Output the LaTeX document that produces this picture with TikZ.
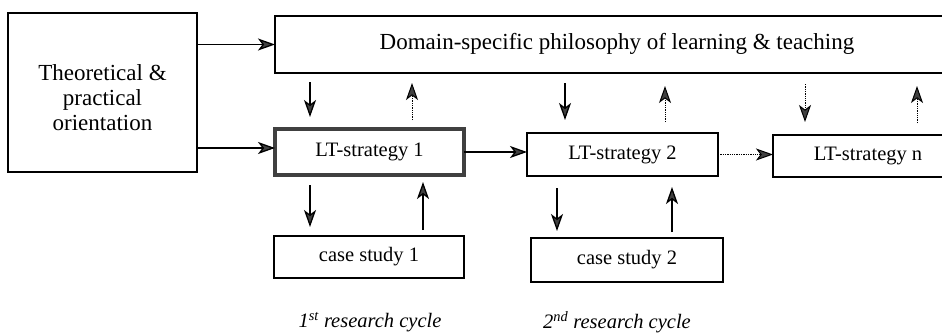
\documentclass[tikz,border=0pt]{standalone}
\usepackage{fontspec}
\setmainfont{Liberation Serif}
\usepackage{tikz}
\usetikzlibrary{arrows.meta}
\usetikzlibrary{positioning}

\tikzset{
  box/.style={draw, rectangle, line width=1.3pt, inner sep=0pt, outer sep=0pt},
  thickbox/.style={box, line width=3.8pt, draw=black!75},
  big/.style={font=\fontsize{23}{25}\selectfont},
  arr/.style={-{Stealth[length=17pt,width=12pt,inset=4.5pt,fill=black!75]}, line width=1.3pt},
  dotarr/.style={arr, densely dotted, line width=1pt},
}

\begin{document}
\begin{tikzpicture}[x=1pt, y=-1pt, font=\fontsize{20.5}{25}\selectfont]
\useasboundingbox (0,0) rectangle (942,332);
\clip (0,0) rectangle (942,332);

\node[box, minimum width=189pt, minimum height=159pt,
      label={[big, align=center, yshift=-5pt]center:Theoretical \&\\practical\\orientation}] (theory) at (102.5,92.5) {};
\node[box, minimum width=700pt, minimum height=57pt,
      label={[big, xshift=-8pt, yshift=1pt]center:Domain-specific philosophy of learning \& teaching}] (philo) at (625,44.5) {};

\node[thickbox, minimum width=189pt, minimum height=46pt] (lt1) at (369.5,152)   {LT-strategy 1};
\node[box,      minimum width=191pt, minimum height=43pt] (lt2) at (622.5,154.5) {LT-strategy 2};
\node[box,      minimum width=190pt, minimum height=42pt] (ltn) at (868,156)     {LT-strategy n};

\node[box, minimum width=190pt, minimum height=42pt] (cs1) at (369,257) {case study 1};
\node[box, minimum width=192pt, minimum height=44pt] (cs2) at (627,260) {case study 2};

\node (cyc1) at (370,322) {\itshape 1\textsuperscript{st} research cycle};
\node (cyc2) at (617,322) {\itshape 2\textsuperscript{nd} research cycle};

% orientation feeds philosophy and first strategy
\draw[arr] (theory.east |- philo.west) -- (philo.west);
\draw[arr] ([yshift=4pt]theory.east |- lt1.west) -- ([yshift=4pt]lt1.west);

% philosophy <-> strategies
\draw[arr,    shorten <=9pt,  shorten >=12pt] ([xshift=-59.5pt]lt1.north |- philo.south) -- ([xshift=-59.5pt]lt1.north);
\draw[dotarr, shorten <=9pt,  shorten >=10pt] ([xshift=42.5pt]lt1.north) -- ([xshift=42.5pt]lt1.north |- philo.south);
\draw[arr,    shorten <=10pt, shorten >=13pt] ([xshift=-57.5pt]lt2.north |- philo.south) -- ([xshift=-57.5pt]lt2.north);
\draw[dotarr, shorten <=11pt, shorten >=13pt] ([xshift=42.5pt]lt2.north) -- ([xshift=42.5pt]lt2.north |- philo.south);
\draw[dotarr, shorten <=11pt, shorten >=13pt] ([xshift=-63pt]ltn.north |- philo.south) -- ([xshift=-63pt]ltn.north);
\draw[dotarr, shorten <=12pt, shorten >=13pt] ([xshift=49pt]ltn.north) -- ([xshift=49pt]ltn.north |- philo.south);

% strategy chain
\draw[arr]    (lt1.east) -- (lt1.east -| lt2.west);
\draw[dotarr] (lt2.east) -- (lt2.east -| ltn.west);

% strategies <-> case studies
\draw[arr, shorten <=10pt, shorten >=9pt] ([xshift=-59.5pt]lt1.south) -- ([xshift=-59.5pt]lt1.south |- cs1.north);
\draw[arr, shorten <=6pt,  shorten >=7pt] ([xshift=53.5pt]lt1.south |- cs1.north) -- ([xshift=53.5pt]lt1.south);
\draw[arr, shorten <=12pt, shorten >=7pt] ([xshift=-65.5pt]lt2.south) -- ([xshift=-65.5pt]lt2.south |- cs2.north);
\draw[arr, shorten <=6pt,  shorten >=11pt] ([xshift=49.5pt]lt2.south |- cs2.north) -- ([xshift=49.5pt]lt2.south);
\end{tikzpicture}
\end{document}
